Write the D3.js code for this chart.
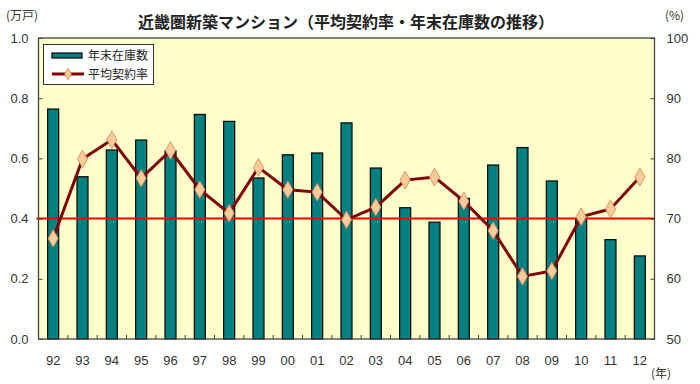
<!DOCTYPE html>
<html><head><meta charset="utf-8">
<script src="https://cdn.jsdelivr.net/npm/d3@7"></script>
<style>body{margin:0;background:#fff}svg{display:block}text{font-family:"Noto Sans CJK JP","Liberation Sans",sans-serif}</style>
</head><body>
<svg id="c" width="700" height="384"></svg>
<script>
const years = ["92","93","94","95","96","97","98","99","00","01","02","03","04","05","06","07","08","09","10","11","12"];
const stock = [0.764,0.539,0.628,0.661,0.625,0.746,0.723,0.535,0.612,0.618,0.718,0.568,0.436,0.388,0.467,0.578,0.636,0.525,0.40,0.33,0.276];
const rate = [66.7,79.9,83.1,76.7,81.3,74.8,70.9,78.5,74.8,74.4,69.8,71.9,76.4,76.9,72.9,68.0,60.4,61.3,70.3,71.6,76.9];
const leftTicks = [0,0.2,0.4,0.6,0.8,1.0];
const rightTicks = [50,60,70,80,90,100];
const refRate = 70;
const title = "近畿圏新築マンション（平均契約率・年末在庫数の推移）";

const svg = d3.select("#c");
const L=38.5, R=654.5, T=38, B=339;
const x = d3.scaleBand().domain(years).range([L,R]);
const yL = d3.scaleLinear().domain([0,1]).range([B,T]);
const yR = d3.scaleLinear().domain([50,100]).range([B,T]);

svg.append("rect").attr("x",L).attr("y",T).attr("width",R-L).attr("height",B-T).attr("fill","#FFFFCC");

// bars
const bw = 11;
svg.selectAll("rect.bar").data(years).enter().append("rect").attr("class","bar")
  .attr("x",d=>x(d)+x.bandwidth()/2-bw/2)
  .attr("y",(d,i)=>yL(stock[i]))
  .attr("width",bw)
  .attr("height",(d,i)=>B-yL(stock[i]))
  .attr("fill","#008080").attr("stroke","#000").attr("stroke-width",1.2);

// reference line
svg.append("line").attr("x1",L-2).attr("x2",R).attr("y1",yR(refRate)).attr("y2",yR(refRate))
  .attr("stroke","#FF0000").attr("stroke-width",2);

// line
const line = d3.line().x((d,i)=>x(years[i])+x.bandwidth()/2).y(d=>yR(d));
svg.append("path").datum(rate).attr("d",line).attr("fill","none").attr("stroke","#800000").attr("stroke-width",3);
const dia = d3.symbol().type(d3.symbolDiamond).size(90);
svg.selectAll("path.mk").data(rate).enter().append("path").attr("class","mk")
  .attr("d",dia)
  .attr("transform",(d,i)=>`translate(${x(years[i])+x.bandwidth()/2},${yR(d)})`)
  .attr("fill","#FFCC99").attr("stroke","#D08050").attr("stroke-width",0.8);

// frame
svg.append("rect").attr("x",L).attr("y",T).attr("width",R-L).attr("height",B-T)
  .attr("fill","none").attr("stroke","#444").attr("stroke-width",1.3);

// axes
const axL = d3.axisLeft(yL).tickValues(leftTicks).tickFormat(d3.format(".1f")).tickSize(-4).tickPadding(14);
const gL = svg.append("g").attr("transform",`translate(${L},0)`).call(axL);
const axR = d3.axisRight(yR).tickValues(rightTicks).tickSize(-4).tickPadding(14);
const gR = svg.append("g").attr("transform",`translate(${R},0)`).call(axR);
const axB = d3.axisBottom(x).tickSize(0).tickPadding(17);
const gB = svg.append("g").attr("transform",`translate(0,${B})`).call(axB);
// category separators ticks (inward)
svg.selectAll("line.sep").data(years.slice(1)).enter().append("line").attr("class","sep")
  .attr("x1",d=>x(d)).attr("x2",d=>x(d)).attr("y1",B).attr("y2",B-4).attr("stroke","#444");
[gL,gR,gB].forEach(g=>{
  g.select(".domain").remove();
  g.selectAll("line").attr("stroke","#444");
  g.selectAll("text").attr("font-size",13).attr("fill","#333").style("font-family","'Liberation Sans',Arial,sans-serif");
});
gL.selectAll("text").attr("x",-10).attr("text-anchor","end");
gR.selectAll("text").attr("x",12).attr("text-anchor","start");

// title & unit labels
svg.append("text").attr("x",346).attr("y",28).attr("text-anchor","middle").attr("font-size",16).attr("font-weight","bold").attr("fill","#222").text(title);
svg.append("text").attr("x",6).attr("y",20).attr("font-size",12).attr("fill","#333").text("(万戸)");
svg.append("text").attr("x",665).attr("y",20).attr("font-size",12).attr("fill","#333").text("(%)");
svg.append("text").attr("x",651).attr("y",378).attr("font-size",12).attr("fill","#333").text("(年)");

// legend
const lg = svg.append("g");
lg.append("rect").attr("x",43.5).attr("y",44.5).attr("width",110).attr("height",40).attr("fill","#fff").attr("stroke","#333").attr("stroke-width",1);
lg.append("rect").attr("x",52).attr("y",53).attr("width",30).attr("height",5).attr("fill","#008080").attr("stroke","#000").attr("stroke-width",1.2);
lg.append("text").attr("x",88).attr("y",60).attr("font-size",12).attr("fill","#222").text("年末在庫数");
lg.append("line").attr("x1",52).attr("x2",84).attr("y1",74).attr("y2",74).attr("stroke","#800000").attr("stroke-width",3);
lg.append("path").attr("d",d3.symbol().type(d3.symbolDiamond).size(40)).attr("transform","translate(68,74)").attr("fill","#FFCC99").attr("stroke","#D08050").attr("stroke-width",0.8);
lg.append("text").attr("x",88).attr("y",79).attr("font-size",12).attr("fill","#222").text("平均契約率");
</script>
</body></html>
